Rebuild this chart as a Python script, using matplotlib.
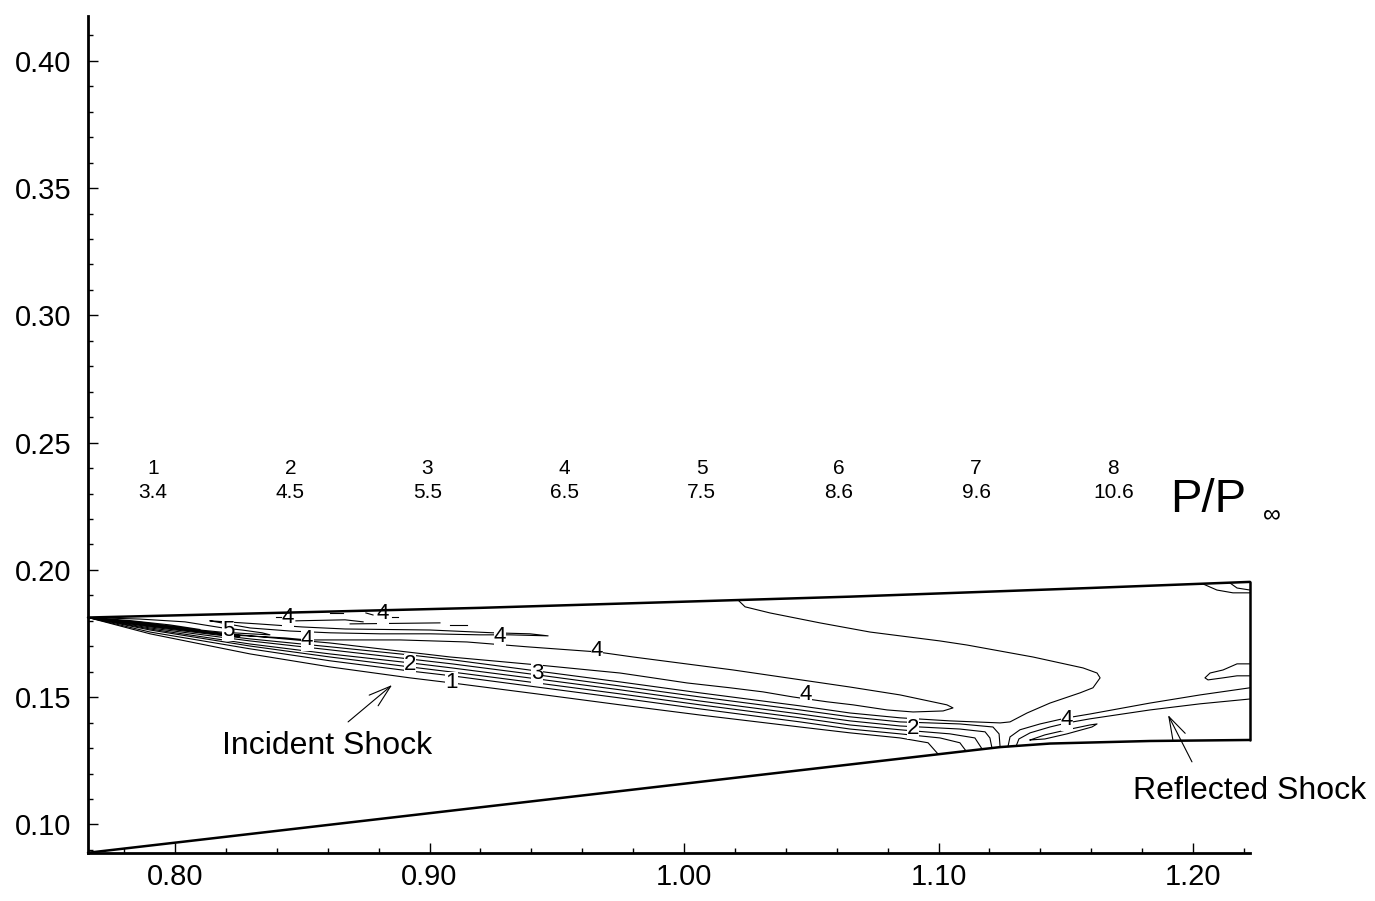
import matplotlib.pyplot as plt
from matplotlib.ticker import MultipleLocator, FormatStrFormatter

plt.rcParams['font.family'] = ['Liberation Sans', 'DejaVu Sans']

# contour levels of P/P_inf
level_ids = [1, 2, 3, 4, 5, 6, 7, 8]
level_values = [3.4, 4.5, 5.5, 6.5, 7.5, 8.6, 9.6, 10.6]

# inlet walls
cowl_x = [0.7658, 0.9198, 1.0652, 1.1595, 1.2224]
cowl_y = [0.1813, 0.1851, 0.1895, 0.1929, 0.1953]
ramp_x = [0.7658, 1.1242, 1.1438, 1.1831, 1.2224]
ramp_y = [0.0889, 0.1304, 0.1318, 0.1328, 0.1332]
exit_x = [1.2224, 1.2224]
exit_y = [0.1332, 0.1953]

# incident shock: stacked contour lines sampled at common stations
shock_x = [0.7658, 0.7902, 0.8295, 0.8609, 0.8923, 0.9088, 0.9422, 0.9749,
           1.0063, 1.0456, 1.0652, 1.0849]
s1_y = [0.1813, 0.1749, 0.1670, 0.1619, 0.1576, 0.1556, 0.1513, 0.1470,
        0.1430, 0.1383, 0.1360, 0.1340]
s2_y = [0.1813, 0.1756, 0.1690, 0.1643, 0.1603, 0.1584, 0.1540, 0.1497,
        0.1454, 0.1403, 0.1375, 0.1356]
s3_y = [0.1813, 0.1764, 0.1701, 0.1658, 0.1619, 0.1599, 0.1556, 0.1513,
        0.1470, 0.1419, 0.1391, 0.1372]
s4_y = [0.1813, 0.1768, 0.1709, 0.1670, 0.1635, 0.1615, 0.1572, 0.1529,
        0.1485, 0.1434, 0.1407, 0.1387]
s5_y = [0.1813, 0.1772, 0.1721, 0.1686, 0.1650, 0.1631, 0.1588, 0.1544,
        0.1501, 0.1450, 0.1423, 0.1403]
s6_y = [0.1813, 0.1776, 0.1729, 0.1698, 0.1666, 0.1647, 0.1603, 0.1560,
        0.1517, 0.1466, 0.1438, 0.1419]

# where the shock lines bend down onto the ramp
s1_tail = [(1.0959, 0.1321), (1.0998, 0.1277)]
s2_tail = [(1.1006, 0.1340), (1.1084, 0.1321), (1.1108, 0.1289)]
s3_tail = [(1.1045, 0.1356), (1.1143, 0.1340), (1.1171, 0.1297)]
s4_tail = [(1.1084, 0.1375), (1.1183, 0.1364), (1.1202, 0.1340), (1.1210, 0.1301)]
s5_tail = [(1.1084, 0.1395), (1.1214, 0.1383), (1.1238, 0.1356), (1.1242, 0.1305)]
# top shock line turns round the high pressure bubble and ends on the cowl
s6_tail = [(1.1045, 0.1407), (1.1242, 0.1399), (1.1281, 0.1403), (1.1348, 0.1438),
           (1.1438, 0.1477), (1.1556, 0.1517), (1.1607, 0.1537), (1.1635, 0.1576),
           (1.1623, 0.1595), (1.1568, 0.1615), (1.1371, 0.1658), (1.1112, 0.1705),
           (1.1006, 0.1721), (1.0731, 0.1756), (1.0534, 0.1792), (1.0338, 0.1831),
           (1.0240, 0.1855), (1.0212, 0.1882)]

# level 4 tongue above the shock
tongue_a = [(0.7658, 0.1813), (0.7902, 0.1784), (0.8208, 0.1745), (0.8432, 0.1733),
            (0.8519, 0.1725), (0.8884, 0.1725), (0.9147, 0.1717), (0.9383, 0.1698),
            (0.9658, 0.1678), (0.9800, 0.1658), (1.0193, 0.1607), (1.0652, 0.1540),
            (1.0849, 0.1509), (1.1033, 0.1470), (1.1057, 0.1458), (1.1018, 0.1446),
            (1.0900, 0.1442), (1.0798, 0.1450), (1.0664, 0.1470), (1.0562, 0.1482),
            (1.0428, 0.1501), (1.0310, 0.1521), (1.0181, 0.1537), (1.0012, 0.1556),
            (0.9878, 0.1576), (0.9749, 0.1595), (0.9422, 0.1627), (0.9081, 0.1658),
            (0.8609, 0.1713), (0.8295, 0.1741), (0.7902, 0.1780), (0.7658, 0.1813)]

# thin level 4 tongue under the cowl
tongue_cowl = [(0.8138, 0.1800), (0.8326, 0.1788), (0.8499, 0.1776), (0.8668, 0.1768),
               (0.9002, 0.1764), (0.9250, 0.1753), (0.9395, 0.1749), (0.9466, 0.1741),
               (0.9316, 0.1745), (0.9198, 0.1745), (0.9002, 0.1749), (0.8806, 0.1749),
               (0.8609, 0.1753), (0.8452, 0.1760), (0.8295, 0.1772), (0.8138, 0.1800)]

# level 5 tongue at the cowl lip
tongue_lip = [(0.7658, 0.1813), (0.7862, 0.1807), (0.8039, 0.1796), (0.8189, 0.1772),
              (0.8263, 0.1764), (0.8342, 0.1753), (0.8373, 0.1745), (0.8295, 0.1749),
              (0.8177, 0.1756), (0.8020, 0.1772), (0.7862, 0.1792), (0.7658, 0.1813)]

# higher levels packed right behind the lip
lip_fan = [
    [(0.7658, 0.1813), (0.7823, 0.1797), (0.7980, 0.1779), (0.8098, 0.1766),
     (0.7980, 0.1784), (0.7823, 0.1801), (0.7658, 0.1813)],
    [(0.7658, 0.1813), (0.7862, 0.1790), (0.8059, 0.1764), (0.8177, 0.1750),
     (0.8059, 0.1769), (0.7862, 0.1795), (0.7658, 0.1813)],
    [(0.7658, 0.1813), (0.7784, 0.1795), (0.7941, 0.1776), (0.8020, 0.1768),
     (0.7941, 0.1780), (0.7784, 0.1799), (0.7658, 0.1813)],
    [(0.7658, 0.1813), (0.7902, 0.1779), (0.8138, 0.1750), (0.8255, 0.1738),
     (0.8138, 0.1754), (0.7902, 0.1783), (0.7658, 0.1813)],
]

# small islands along the cowl
islands = [
    [(0.8397, 0.1815), (0.8424, 0.1815)],
    [(0.8475, 0.1800), (0.8668, 0.1804), (0.8739, 0.1796)],
    [(0.8609, 0.1831), (0.8660, 0.1831)],
    [(0.8750, 0.1831), (0.8778, 0.1823)],
    [(0.8853, 0.1815), (0.8876, 0.1815)],
    [(0.8688, 0.1788), (0.9041, 0.1792)],
    [(0.9081, 0.1784), (0.9147, 0.1784)],
]

# reflected shock
refl_1 = [(1.1273, 0.1306), (1.1281, 0.1344), (1.1320, 0.1372), (1.1399, 0.1395),
          (1.1505, 0.1419), (1.1595, 0.1434), (1.1831, 0.1477), (1.2028, 0.1509),
          (1.2224, 0.1537)]
refl_2 = [(1.1305, 0.1308), (1.1316, 0.1336), (1.1360, 0.1360), (1.1438, 0.1383),
          (1.1505, 0.1399), (1.1595, 0.1415), (1.1831, 0.1450), (1.2028, 0.1474),
          (1.2224, 0.1493)]
refl_loop = [(1.1360, 0.1332), (1.1418, 0.1352), (1.1505, 0.1372), (1.1595, 0.1391),
             (1.1623, 0.1395), (1.1603, 0.1383), (1.1505, 0.1356), (1.1418, 0.1336),
             (1.1360, 0.1332)]

# near the exit plane
exit_tongue = [(1.2224, 0.1631), (1.2173, 0.1631), (1.2118, 0.1607), (1.2067, 0.1595),
               (1.2047, 0.1576), (1.2059, 0.1568), (1.2118, 0.1576), (1.2173, 0.1584),
               (1.2224, 0.1584)]
corner_1 = [(1.2039, 0.1945), (1.2094, 0.1921), (1.2157, 0.1910), (1.2224, 0.1910)]
corner_2 = [(1.2145, 0.1949), (1.2173, 0.1929), (1.2224, 0.1921)]

# in-line contour labels
label_x = [0.8208, 0.8444, 0.8817, 0.8519, 0.9277, 0.8923, 0.9088, 0.9422,
           0.9658, 1.0479, 1.0900, 1.1505]
label_y = [0.1764, 0.1815, 0.1827, 0.1725, 0.1737, 0.1627, 0.1556, 0.1592,
           0.1682, 0.1510, 0.1379, 0.1411]
label_txt = ['5', '4', '4', '4', '4', '2', '1', '3', '4', '4', '2', '4']


def draw_line(ax, pts, lw=0.8):
    xs, ys = zip(*pts)
    ax.plot(xs, ys, color='black', lw=lw, solid_joinstyle='round', zorder=2)


fig = plt.figure(figsize=(13.75, 9.01), dpi=100)
ax = fig.add_axes([88 / 1375, 48 / 901, 1162 / 1375, 837 / 901])
ax.set_xlim(0.7658, 1.2224)
ax.set_ylim(0.0888, 0.4176)

# shock stack
for ys, tail in [(s1_y, s1_tail), (s2_y, s2_tail), (s3_y, s3_tail),
                 (s4_y, s4_tail), (s5_y, s5_tail), (s6_y, s6_tail)]:
    draw_line(ax, list(zip(shock_x, ys)) + tail)

for pts in [tongue_a, tongue_cowl, tongue_lip, refl_1, refl_2, refl_loop,
            exit_tongue, corner_1, corner_2] + islands + lip_fan:
    draw_line(ax, pts)

for x, y, t in zip(label_x, label_y, label_txt):
    ax.text(x, y, t, fontsize=16, ha='center', va='center', zorder=3,
            bbox=dict(facecolor='white', edgecolor='none', pad=0.2))

# walls on top of everything
for xs, ys in [(cowl_x, cowl_y), (ramp_x, ramp_y), (exit_x, exit_y)]:
    ax.plot(xs, ys, color='black', lw=1.8, zorder=4, clip_on=False,
            solid_capstyle='round')

# level legend
for i, (n, v) in enumerate(zip(level_ids, level_values)):
    lx = 0.7914 + i * 0.0539
    ax.text(lx, 0.2377, str(n), fontsize=15, ha='center', va='baseline')
    ax.text(lx, 0.2283, f'{v:.1f}', fontsize=15, ha='center', va='baseline')
ax.text(1.1910, 0.2228, 'P/P', fontsize=34, ha='left', va='baseline')
ax.text(1.2310, 0.2192, '\u221e', fontsize=18, ha='center', va='baseline')

# annotations
ax.annotate('', xy=(0.8853, 0.1548), xytext=(0.8680, 0.1403),
            arrowprops=dict(arrowstyle='->,head_length=0.8,head_width=0.25',
                            lw=0.8, color='black', mutation_scale=20,
                            shrinkA=0, shrinkB=0))
ax.text(0.8597, 0.1277, 'Incident Shock', fontsize=23, ha='center', va='baseline')
ax.annotate('', xy=(1.1902, 0.1430), xytext=(1.1996, 0.1246),
            arrowprops=dict(arrowstyle='->,head_length=0.8,head_width=0.25',
                            lw=0.8, color='black', mutation_scale=20,
                            shrinkA=0, shrinkB=0))
ax.text(1.2224, 0.1101, 'Reflected Shock', fontsize=23, ha='center', va='baseline')

# axes styling
for side in ['top', 'right']:
    ax.spines[side].set_visible(False)
for side in ['left', 'bottom']:
    ax.spines[side].set_linewidth(2.0)

ax.xaxis.set_major_locator(MultipleLocator(0.1))
ax.xaxis.set_minor_locator(MultipleLocator(0.02))
ax.yaxis.set_major_locator(MultipleLocator(0.05))
ax.yaxis.set_minor_locator(MultipleLocator(0.01))
ax.xaxis.set_major_formatter(FormatStrFormatter('%.2f'))
ax.yaxis.set_major_formatter(FormatStrFormatter('%.2f'))
ax.tick_params(which='both', direction='in', top=False, right=False, width=1.0)
ax.tick_params(which='major', length=7.5, labelsize=21)
ax.tick_params(axis='x', which='major', pad=7)
ax.tick_params(axis='y', which='major', pad=12)
ax.tick_params(which='minor', length=3.5)

fig.savefig('out.png', dpi=100)
